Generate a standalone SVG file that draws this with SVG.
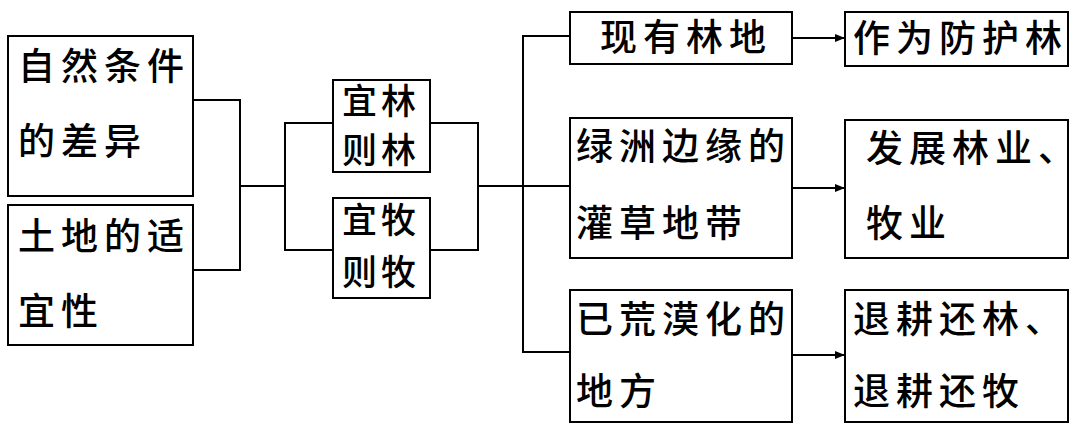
<svg xmlns="http://www.w3.org/2000/svg" width="1080" height="434" viewBox="0 0 1080 434">
<defs><marker id="ar" markerWidth="10" markerHeight="8" refX="10" refY="4" orient="auto" markerUnits="userSpaceOnUse"><path d="M0,0 L10,4 L0,8 z" fill="#000"/></marker></defs>
<style>
rect{fill:#fff;stroke:#000;stroke-width:2}
text{font-family:"Noto Sans CJK SC","Noto Sans",sans-serif;font-size:37px;letter-spacing:6px;font-weight:500;fill:#000}
.s{font-size:35px;letter-spacing:4px}
.c line,.c polyline{stroke:#000;stroke-width:2;fill:none}
</style>
<rect width="1080" height="434" style="stroke:none"/>
<g class="c">
<polyline points="193,100 240,100 240,270 193,270"/>
<line x1="240" y1="186" x2="285" y2="186"/>
<polyline points="333,123 285,123 285,250 333,250"/>
<polyline points="430,123 478,123 478,250 430,250"/>
<line x1="478" y1="186" x2="523" y2="186"/>
<polyline points="570,36 523,36 523,352 570,352"/>
<line x1="523" y1="186" x2="570" y2="186"/>
<line x1="792" y1="38" x2="845" y2="38" marker-end="url(#ar)"/>
<line x1="792" y1="188" x2="845" y2="188" marker-end="url(#ar)"/>
<line x1="792" y1="355" x2="845" y2="355" marker-end="url(#ar)"/>
</g>
<g id="n1"><rect x="8" y="36" width="185" height="160"/><text x="18" y="80">自然条件</text><text x="18" y="155">的差异</text></g>
<g id="n2"><rect x="8" y="205" width="185" height="140"/><text x="18" y="250">土地的适</text><text x="18" y="325">宜性</text></g>
<g id="n3"><rect x="333" y="80" width="97" height="92"/><text class="s" x="342" y="114">宜林</text><text class="s" x="342" y="163">则林</text></g>
<g id="n4"><rect x="333" y="198" width="97" height="100"/><text class="s" x="342" y="233">宜牧</text><text class="s" x="342" y="285">则牧</text></g>
<g id="n5"><rect x="570" y="12" width="222" height="52"/><text x="600" y="51">现有林地</text></g>
<g id="n6"><rect x="570" y="118" width="222" height="140"/><text x="576" y="160">绿洲边缘的</text><text x="576" y="237">灌草地带</text></g>
<g id="n7"><rect x="570" y="290" width="222" height="132"/><text x="576" y="333">已荒漠化的</text><text x="576" y="405">地方</text></g>
<g id="n8"><rect x="845" y="12" width="223" height="54"/><text x="853" y="52">作为防护林</text></g>
<g id="n9"><rect x="845" y="120" width="223" height="138"/><text x="866" y="162">发展林业、</text><text x="866" y="237">牧业</text></g>
<g id="n10"><rect x="845" y="290" width="223" height="132"/><text x="853" y="333">退耕还林、</text><text x="853" y="405">退耕还牧</text></g>
</svg>
